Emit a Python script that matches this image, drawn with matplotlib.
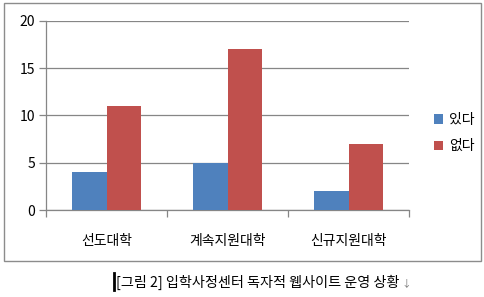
import matplotlib
matplotlib.use("Agg")
import matplotlib.pyplot as plt
import numpy as np
from matplotlib.patches import Rectangle
from matplotlib.lines import Line2D

plt.rcParams['font.family'] = ['Noto Sans CJK KR', 'DejaVu Sans']

categories = ["선도대학", "계속지원대학", "신규지원대학"]
series_names = ["있다", "없다"]
have_site = [4, 5, 2]
no_site = [11, 17, 7]
y_ticks = [0, 5, 10, 15, 20]
caption = "[그림 2] 입학사정센터 독자적 웹사이트 운영 상황"

BLUE = "#4F81BD"
RED = "#C0504D"
GRID = "#868686"

W, H = 484, 297
fig = plt.figure(figsize=(W / 100, H / 100), dpi=100)
fig.patch.set_facecolor("white")

# chart frame
fig.patches.append(Rectangle((4 / W, 1 - 261 / H), 477 / W, 258 / H,
                             transform=fig.transFigure, fill=False,
                             edgecolor="#8C8C8C", linewidth=1.0))

ax = fig.add_axes([46 / W, 1 - 210 / H, 363 / W, 189 / H])
x = np.arange(len(categories))
bw = 1 / 3.5
ax.bar(x - bw / 2, have_site, bw, color=BLUE, label=series_names[0], zorder=3)
ax.bar(x + bw / 2, no_site, bw, color=RED, label=series_names[1], zorder=3)

ax.set_xlim(-0.5, len(categories) - 0.5)
ax.set_ylim(0, 20)
ax.set_yticks(y_ticks)
ax.yaxis.grid(True, color=GRID, linewidth=0.9, zorder=0)
for s in ["top", "right"]:
    ax.spines[s].set_visible(False)
for s in ["left", "bottom"]:
    ax.spines[s].set_color(GRID)
    ax.spines[s].set_linewidth(0.9)

ax.set_xticks(x)
ax.set_xticklabels(categories, fontsize=10)
ax.set_xticks(np.arange(-0.5, len(categories)), minor=True)
ax.tick_params(axis="x", which="major", length=0, pad=17)
ax.tick_params(axis="x", which="minor", length=5, color=GRID, width=0.9)
ax.tick_params(axis="y", length=5, color=GRID, width=0.9, labelsize=10, pad=3)

ax.legend(loc="center left", bbox_to_anchor=(428 / W, 1 - 133 / H),
          bbox_transform=fig.transFigure, frameon=False, fontsize=10,
          handlelength=0.7, handleheight=0.7, handletextpad=0.4,
          labelspacing=0.9, borderaxespad=0)

# caption with caret and paragraph mark
fig.add_artist(Line2D([114 / W, 114 / W], [1 - 290 / H, 1 - 273 / H],
                      transform=fig.transFigure, color="black", linewidth=2))
t = fig.text(116 / W, 1 - 282 / H, caption, fontsize=10.2, va="center", ha="left")
fig.canvas.draw()
ext = t.get_window_extent()
fig.text((ext.x1 + 2) / W, 1 - 283 / H, "↓", fontsize=7, va="center", ha="left",
         color="#777777")

fig.savefig("out.png", dpi=100)
